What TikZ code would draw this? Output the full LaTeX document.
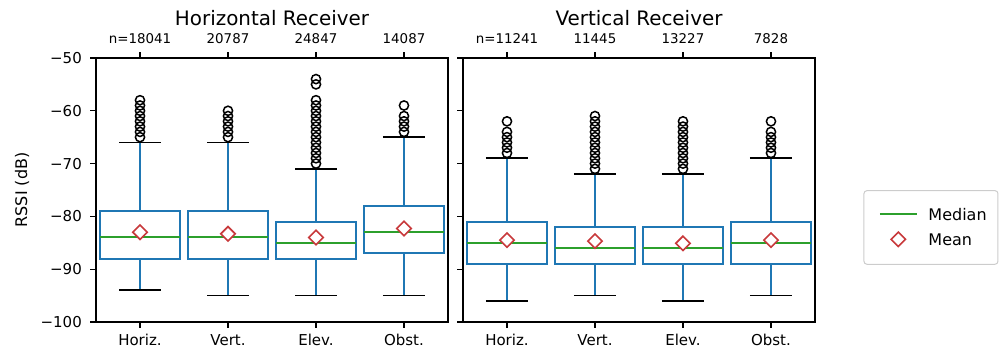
\documentclass[tikz,border=0pt]{standalone}
\usepackage{fontspec}
\setmainfont{DejaVu Sans}
\usetikzlibrary{shapes.geometric}

\definecolor{boxblue}{HTML}{1F77B4}
\definecolor{medgreen}{HTML}{2CA02C}
\definecolor{meanred}{HTML}{C8393B}

\begin{document}
\begin{tikzpicture}[x=88pt,y=5.28pt]
	\tikzstyle{frame} = [draw=black, line width=1.3pt];
	\tikzstyle{boxline} = [draw=boxblue, line width=2pt];
	\tikzstyle{capline} = [draw=black, line width=1.6pt];
	\tikzstyle{medline} = [draw=medgreen, line width=2pt];
	\tikzstyle{flier} = [draw=black, line width=1.5pt];
	\tikzstyle{meanmark} = [diamond, draw=meanred, fill=white, line width=1.6pt, minimum size=15pt, inner sep=0pt];
	\tikzstyle{ticklabel} = [font=\fontsize{15}{18}\selectfont, inner sep=0pt];
	\tikzstyle{countlabel} = [font=\fontsize{13.4}{16}\selectfont, inner sep=0pt];
	\tikzstyle{titlelabel} = [font=\fontsize{19.9}{24}\selectfont, inner sep=0pt];
	\tikzstyle{legendlabel} = [font=\fontsize{16}{19}\selectfont, inner sep=0pt];
	\useasboundingbox (-0.591,-105.11) rectangle (10.773,-39.02);

	% left panel: horizontal receiver
	\begin{scope}
		\foreach \p/\lo/\qa/\md/\qb/\hi/\mn in {1/-94/-88/-84/-79/-66/-83.0, 2/-95/-88/-84/-79/-66/-83.3, 3/-95/-88/-85/-81/-71/-84.0, 4/-95/-87/-83/-78/-65/-82.3} {
			\draw [boxline] (\p,\qa) -- (\p,\lo);
			\draw [boxline] (\p,\qb) -- (\p,\hi);
			\draw [capline] ([xshift=-21pt]\p,\lo) -- ([xshift=21pt]\p,\lo);
			\draw [capline] ([xshift=-21pt]\p,\hi) -- ([xshift=21pt]\p,\hi);
			\draw [boxline] ([xshift=-40pt]\p,\qa) rectangle ([xshift=40pt]\p,\qb);
			\draw [medline] ([xshift=-40pt]\p,\md) -- ([xshift=40pt]\p,\md);
			\node [meanmark] (hmean\p) at (\p,\mn) {};
		}
		\foreach \p/\fl in {1/{-58,-59,...,-65}, 2/{-60,-61,...,-65}, 3/{-54,-55,-58,-59,...,-70}, 4/{-59,-61,-62,-63,-64}} {
			\foreach \v in \fl
				\draw [flier] (\p,\v) circle (4.6pt);
		}
		\draw [frame] (0.5,-100) rectangle (4.5,-50);
		\foreach \v in {50,60,...,100} {
			\draw [frame] (0.5,-\v) -- ([xshift=-6pt]0.5,-\v);
			\node [ticklabel, anchor=east] (hy\v) at ([xshift=-14pt]0.5,-\v) {−\v};
		}
		\foreach \p/\n in {1/n=18041, 2/20787, 3/24847, 4/14087} {
			\draw [frame] (\p,-50) -- ([yshift=6pt]\p,-50);
			\node [countlabel, anchor=base] (hn\p) at ([yshift=14.5pt]\p,-50) {\n};
		}
		\foreach \p/\c in {1/Horiz., 2/Vert., 3/Elev., 4/Obst.} {
			\draw [frame] (\p,-100) -- ([yshift=-6pt]\p,-100);
			\node [ticklabel, anchor=base] (hc\p) at ([yshift=-23.5pt]\p,-100) {\c};
		}
		\node [titlelabel, anchor=base] (htitle) at ([yshift=32pt]2.5,-50) {Horizontal Receiver};
		\node [legendlabel, rotate=90] (ylab) at (-0.341,-75) {RSSI (dB)};
	\end{scope}

	% right panel: vertical receiver
	\begin{scope}[xshift=367pt]
		\foreach \p/\lo/\qa/\md/\qb/\hi/\mn in {1/-96/-89/-85/-81/-69/-84.5, 2/-95/-89/-86/-82/-72/-84.7, 3/-96/-89/-86/-82/-72/-85.1, 4/-95/-89/-85/-81/-69/-84.5} {
			\draw [boxline] (\p,\qa) -- (\p,\lo);
			\draw [boxline] (\p,\qb) -- (\p,\hi);
			\draw [capline] ([xshift=-21pt]\p,\lo) -- ([xshift=21pt]\p,\lo);
			\draw [capline] ([xshift=-21pt]\p,\hi) -- ([xshift=21pt]\p,\hi);
			\draw [boxline] ([xshift=-40pt]\p,\qa) rectangle ([xshift=40pt]\p,\qb);
			\draw [medline] ([xshift=-40pt]\p,\md) -- ([xshift=40pt]\p,\md);
			\node [meanmark] (vmean\p) at (\p,\mn) {};
		}
		\foreach \p/\fl in {1/{-62,-64,-65,...,-68}, 2/{-61,-62,...,-71}, 3/{-62,-63,...,-71}, 4/{-62,-64,-65,...,-68}} {
			\foreach \v in \fl
				\draw [flier] (\p,\v) circle (4.6pt);
		}
		\draw [frame] (0.5,-100) rectangle (4.5,-50);
		\foreach \v in {50,60,...,100}
			\draw [frame] (0.5,-\v) -- ([xshift=-6pt]0.5,-\v);
		\foreach \p/\n in {1/n=11241, 2/11445, 3/13227, 4/7828} {
			\draw [frame] (\p,-50) -- ([yshift=6pt]\p,-50);
			\node [countlabel, anchor=base] (vn\p) at ([yshift=14.5pt]\p,-50) {\n};
		}
		\foreach \p/\c in {1/Horiz., 2/Vert., 3/Elev., 4/Obst.} {
			\draw [frame] (\p,-100) -- ([yshift=-6pt]\p,-100);
			\node [ticklabel, anchor=base] (vc\p) at ([yshift=-23.5pt]\p,-100) {\c};
		}
		\node [titlelabel, anchor=base] (vtitle) at ([yshift=32pt]2.5,-50) {Vertical Receiver};
	\end{scope}

	% legend
	\draw [draw=black!20, line width=1pt, rounded corners=3pt] (9.227,-75.13) rectangle (10.75,-89.07);
	\draw [medline] (9.409,-79.6) -- (9.826,-79.6);
	\node [meanmark] (legmean) at (9.617,-84.34) {};
	\node [legendlabel, anchor=west] (legmed) at (9.958,-79.6) {Median};
	\node [legendlabel, anchor=west] (legmn) at (9.958,-84.34) {Mean};
\end{tikzpicture}
\end{document}
